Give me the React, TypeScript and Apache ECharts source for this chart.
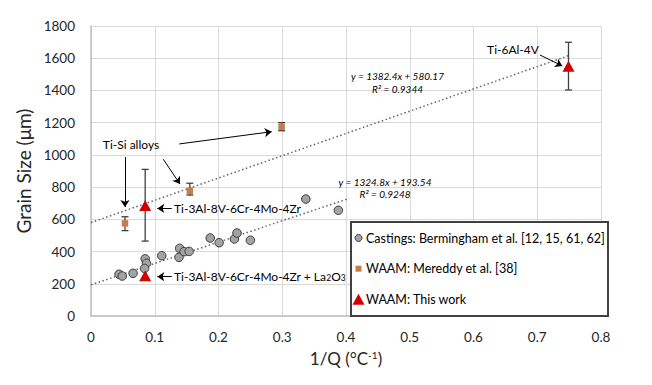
import React, { useEffect, useRef } from "react";
import * as echarts from "echarts";

// Castings: Bermingham et al. [x = 1/Q, y = grain size]
const castings: number[][] = [
  [0.044, 259], [0.049, 248], [0.066, 265], [0.085, 355], [0.087, 327], [0.084, 295],
  [0.111, 374], [0.138, 364], [0.139, 420], [0.146, 399], [0.154, 401], [0.187, 484],
  [0.201, 455], [0.225, 478], [0.229, 515], [0.25, 470], [0.337, 726], [0.388, 656],
];
// WAAM: Mereddy et al. [x, y]
const mereddy: number[][] = [[0.0533, 575], [0.155, 778], [0.299, 1175]];
// error bars [x, low, high]
const mereddyErr: number[][] = [[0.0533, 530, 616], [0.155, 751, 824], [0.299, 1150, 1200]];
// WAAM: This work [x, y]
const thisWork: number[][] = [[0.085, 686], [0.085, 250], [0.749, 1550]];
const thisWorkErr: number[][] = [[0.085, 465, 910], [0.749, 1403, 1699]];
// trend lines (read end points)
const trend1: number[][] = [[0, 580], [0.75, 1617]];
const trend2: number[][] = [[0, 194], [0.405, 730]];
// annotation arrows [x1, y1, x2, y2] in data units
const arrows: number[][] = [
  [0.0533, 987, 0.0533, 677],
  [0.1134, 973, 0.1396, 819],
  [0.1385, 1068, 0.2834, 1144],
  [0.1266, 668, 0.104, 668],
  [0.1266, 244, 0.104, 244],
  [0.7043, 1620, 0.7393, 1552],
];
const legendNames = [
  "Castings: Bermingham et al. [12, 15, 61, 62]",
  "WAAM: Mereddy et al. [38]",
  "WAAM: This work",
];
const eq1 = ["y = 1382.4x + 580.17", "R² = 0.9344"];
const eq2 = ["y = 1324.8x + 193.54", "R² = 0.9248"];

const FONT = "Lato, 'Noto Sans', sans-serif";
const GRAY_FILL = "#a3a3a3";
const ORANGE = "#c77d45";
const RED = "#d00000";
const EB = "#404040";

function errorBarSeries(data: number[][], z: number) {
  return {
    type: "custom",
    data,
    z,
    silent: true,
    encode: { x: 0, y: [1, 2] },
    renderItem: (params: any, api: any) => {
      const x = api.value(0);
      const lo = api.coord([x, api.value(1)]);
      const hi = api.coord([x, api.value(2)]);
      const w = 3.5;
      const style = { stroke: EB, lineWidth: 1.3 };
      return {
        type: "group",
        children: [
          { type: "line", shape: { x1: lo[0], y1: lo[1], x2: hi[0], y2: hi[1] }, style },
          { type: "line", shape: { x1: lo[0] - w, y1: lo[1], x2: lo[0] + w, y2: lo[1] }, style },
          { type: "line", shape: { x1: hi[0] - w, y1: hi[1], x2: hi[0] + w, y2: hi[1] }, style },
        ],
      };
    },
  };
}

export default function App() {
  const ref = useRef<HTMLDivElement>(null);
  useEffect(() => {
    if (!ref.current) return;
    document.body.style.margin = "0";
    const chart = echarts.init(ref.current, null, { renderer: "svg" });
    const txt = (text: string, x: number, y: number, opts: any = {}) => ({
      type: "text",
      x,
      y,
      z: 100,
      silent: true,
      style: {
        text,
        fill: "#000",
        fontFamily: FONT,
        fontSize: 12,
        align: "left",
        verticalAlign: "middle",
        ...opts,
      },
    });
    const legY = [238, 268.7, 299.7];
    chart.setOption({
      animation: false,
      backgroundColor: "#fff",
      grid: { left: 91, right: 51, top: 26, bottom: 69 },
      xAxis: {
        type: "value",
        min: 0,
        max: 0.8,
        interval: 0.1,
        name: "1/Q (°C{sup|-1})",
        nameLocation: "middle",
        nameGap: 34,
        nameTextStyle: {
          fontFamily: FONT,
          fontSize: 17,
          color: "#262626",
          rich: { sup: { fontSize: 10, verticalAlign: "top", fontFamily: FONT, color: "#262626" } },
        },
        axisLine: { lineStyle: { color: "#bfbfbf", width: 1.5 } },
        axisTick: { show: false },
        axisLabel: { fontFamily: FONT, fontSize: 13.5, color: "#262626", margin: 14 },
        splitLine: { lineStyle: { color: "#d9d9d9", width: 1 } },
      },
      yAxis: {
        type: "value",
        min: 0,
        max: 1800,
        interval: 200,
        name: "Grain Size (μm)",
        nameLocation: "middle",
        nameGap: 52,
        nameTextStyle: { fontFamily: FONT, fontSize: 19, color: "#262626" },
        axisLine: { show: true, lineStyle: { color: "#bfbfbf", width: 1.5 } },
        axisTick: { show: false },
        axisLabel: {
          fontFamily: FONT,
          fontSize: 13.5,
          color: "#262626",
          margin: 16,
          formatter: (v: number) => String(v),
        },
        splitLine: { lineStyle: { color: "#d9d9d9", width: 1 } },
      },
      series: [
        {
          type: "line",
          data: trend1,
          symbol: "none",
          silent: true,
          z: 1,
          lineStyle: { color: "#666", width: 1.5, type: [1.5, 2.5] },
        },
        {
          type: "line",
          data: trend2,
          symbol: "none",
          silent: true,
          z: 1,
          lineStyle: { color: "#666", width: 1.5, type: [1.5, 2.5] },
        },
        errorBarSeries(mereddyErr, 2),
        errorBarSeries(thisWorkErr, 2),
        {
          name: legendNames[0],
          type: "scatter",
          data: castings,
          symbol: "circle",
          symbolSize: 8.5,
          z: 3,
          itemStyle: { color: GRAY_FILL, borderColor: "#3a3a3a", borderWidth: 1, opacity: 1 },
          markLine: {
            silent: true,
            symbol: ["none", "arrow"],
            symbolSize: 7,
            label: { show: false },
            lineStyle: { color: "#000", width: 1, type: "solid" },
            data: arrows.map((a) => [{ coord: [a[0], a[1]] }, { coord: [a[2], a[3]] }]),
          },
        },
        {
          name: legendNames[1],
          type: "scatter",
          data: mereddy,
          symbol: "rect",
          symbolSize: 6.5,
          z: 4,
          itemStyle: { color: ORANGE, opacity: 1 },
        },
        {
          name: legendNames[2],
          type: "scatter",
          data: thisWork,
          symbol: "triangle",
          symbolSize: [12, 11],
          z: 5,
          itemStyle: { color: RED, opacity: 1 },
        },
      ],
      graphic: [
        txt("Ti-Si alloys", 131, 144, { align: "center" }),
        txt("Ti-3Al-8V-6Cr-4Mo-4Zr", 174, 208),
        txt("Ti-3Al-8V-6Cr-4Mo-4Zr + La{sub|2}O{sub|3}", 174, 276, {
          rich: { sub: { fontSize: 8.5, verticalAlign: "bottom", fontFamily: FONT, fill: "#000" } },
        }),
        txt("Ti-6Al-4V", 513, 49, { align: "center" }),
        txt(eq1[0], 397.5, 76, { align: "center", fontSize: 10, fontStyle: "italic" }),
        txt(eq1[1], 397.5, 89, { align: "center", fontSize: 10, fontStyle: "italic" }),
        txt(eq2[0], 385, 182, { align: "center", fontSize: 10, fontStyle: "italic" }),
        txt(eq2[1], 385, 194, { align: "center", fontSize: 10, fontStyle: "italic" }),
        {
          type: "rect",
          z: 99,
          silent: true,
          shape: { x: 351, y: 222, width: 257, height: 94 },
          style: { fill: "#fff", stroke: "#404040", lineWidth: 2 },
        },
        {
          type: "circle",
          z: 100,
          silent: true,
          shape: { cx: 358.5, cy: legY[0], r: 3.5 },
          style: { fill: GRAY_FILL, stroke: "#3a3a3a", lineWidth: 1 },
        },
        {
          type: "rect",
          z: 100,
          silent: true,
          shape: { x: 355.5, y: legY[1] - 3, width: 6, height: 6 },
          style: { fill: ORANGE },
        },
        {
          type: "polygon",
          z: 100,
          silent: true,
          shape: {
            points: [
              [358.5, legY[2] - 6],
              [364.5, legY[2] + 5],
              [352.5, legY[2] + 5],
            ],
          },
          style: { fill: RED },
        },
        txt(legendNames[0], 366, legY[0], { fontSize: 12.5 }),
        txt(legendNames[1], 366, legY[1], { fontSize: 12.5 }),
        txt(legendNames[2], 366, legY[2], { fontSize: 12.5 }),
      ],
    });
    return () => chart.dispose();
  }, []);
  return <div ref={ref} style={{ width: 652, height: 385 }} />;
}
